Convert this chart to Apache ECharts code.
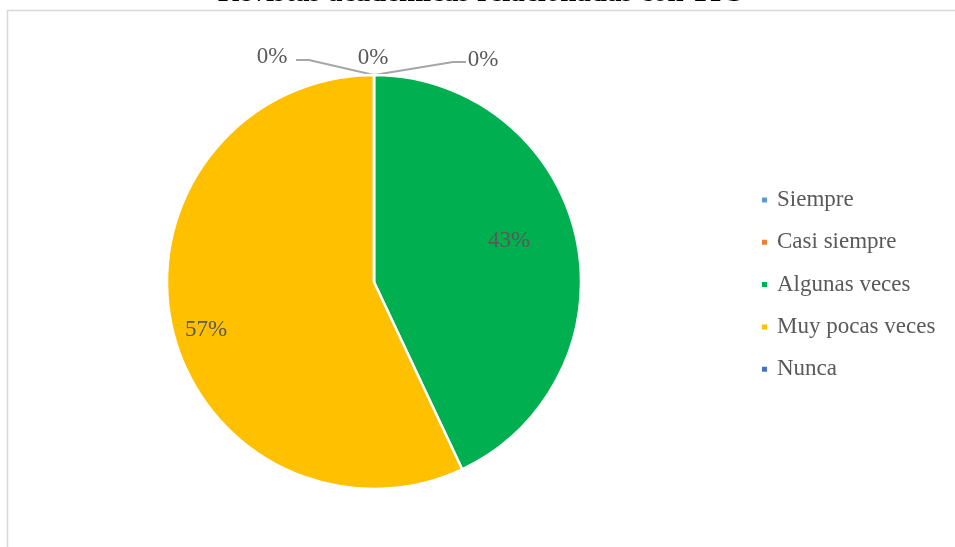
<!DOCTYPE html>
<html>
<head>
<meta charset="utf-8">
<script src="https://cdn.jsdelivr.net/npm/echarts@6/dist/echarts.min.js"></script>
<style>html,body{margin:0;padding:0;background:#fff}#c{width:955px;height:547px}</style>
</head>
<body>
<div id="c"></div>
<script>
const titleText = 'Revistas académicas relacionadas con TIC';
const categories = ['Siempre', 'Casi siempre', 'Algunas veces', 'Muy pocas veces', 'Nunca'];
const values = [0, 0, 43, 57, 0];
const colors = ['#5B9BD5', '#ED7D31', '#00B050', '#FFC000', '#4472C4'];

const FONT = '"Liberation Serif", "Times New Roman", serif';
const CX = 374, CY = 282, R = 207;

// label placements (relative to pie centre)
const labelSpots = {
  0: { dx: -102, dy: -225, line: [[296 - CX, 60 - CY], [309 - CX, 60 - CY], [0, -R]] },
  1: { dx: -1, dy: -224, line: null },
  2: { dx: 135, dy: -41 },
  3: { dx: -168, dy: 48 },
  4: { dx: 109, dy: -222, line: [[0, -R], [453 - CX, 62 - CY], [466 - CX, 62 - CY]] }
};

const chart = echarts.init(document.getElementById('c'));
chart.setOption({
  animation: false,
  color: colors,
  graphic: [
    { type: 'rect', shape: { x: 7.5, y: 10.5, width: 2000, height: 2000 },
      style: { fill: 'none', stroke: '#d9d9d9', lineWidth: 1.5 }, z: -1 },
    { type: 'text', x: 480, y: -6, z: 10,
      style: { text: titleText, font: 'bold 29px ' + FONT, fill: '#000', align: 'center', verticalAlign: 'middle' } }
  ],
  legend: {
    orient: 'vertical',
    left: 755,
    top: 183,
    icon: 'rect',
    itemWidth: 7,
    itemHeight: 7,
    itemGap: 18.3,
    textStyle: { fontFamily: FONT, fontSize: 23, color: '#595959', lineHeight: 24, padding: [0, 0, 0, 4] },
    data: categories
  },
  series: [{
    type: 'pie',
    center: [CX, CY],
    radius: R,
    startAngle: 90,
    clockwise: true,
    avoidLabelOverlap: false,
    itemStyle: { borderColor: '#fff', borderWidth: 2.5 },
    label: {
      show: true,
      fontFamily: FONT,
      fontSize: 23,
      color: '#595959',
      formatter: p => Math.round(p.percent) + '%'
    },
    labelLine: { show: true, lineStyle: { color: '#a6a6a6', width: 2 }, length: 10, length2: 10 },
    labelLayout: function (params) {
      const s = labelSpots[params.dataIndex];
      const out = { x: CX + s.dx, y: CY + s.dy, align: 'center', verticalAlign: 'middle' };
      if (s.line) out.labelLinePoints = s.line.map(p => [CX + p[0], CY + p[1]]);
      return out;
    },
    data: categories.map((name, i) => ({
      name: name,
      value: values[i],
      label: { position: values[i] === 0 ? 'outside' : 'inside' },
      labelLine: { show: values[i] === 0 && labelSpots[i].line !== null }
    }))
  }]
});
</script>
</body>
</html>
